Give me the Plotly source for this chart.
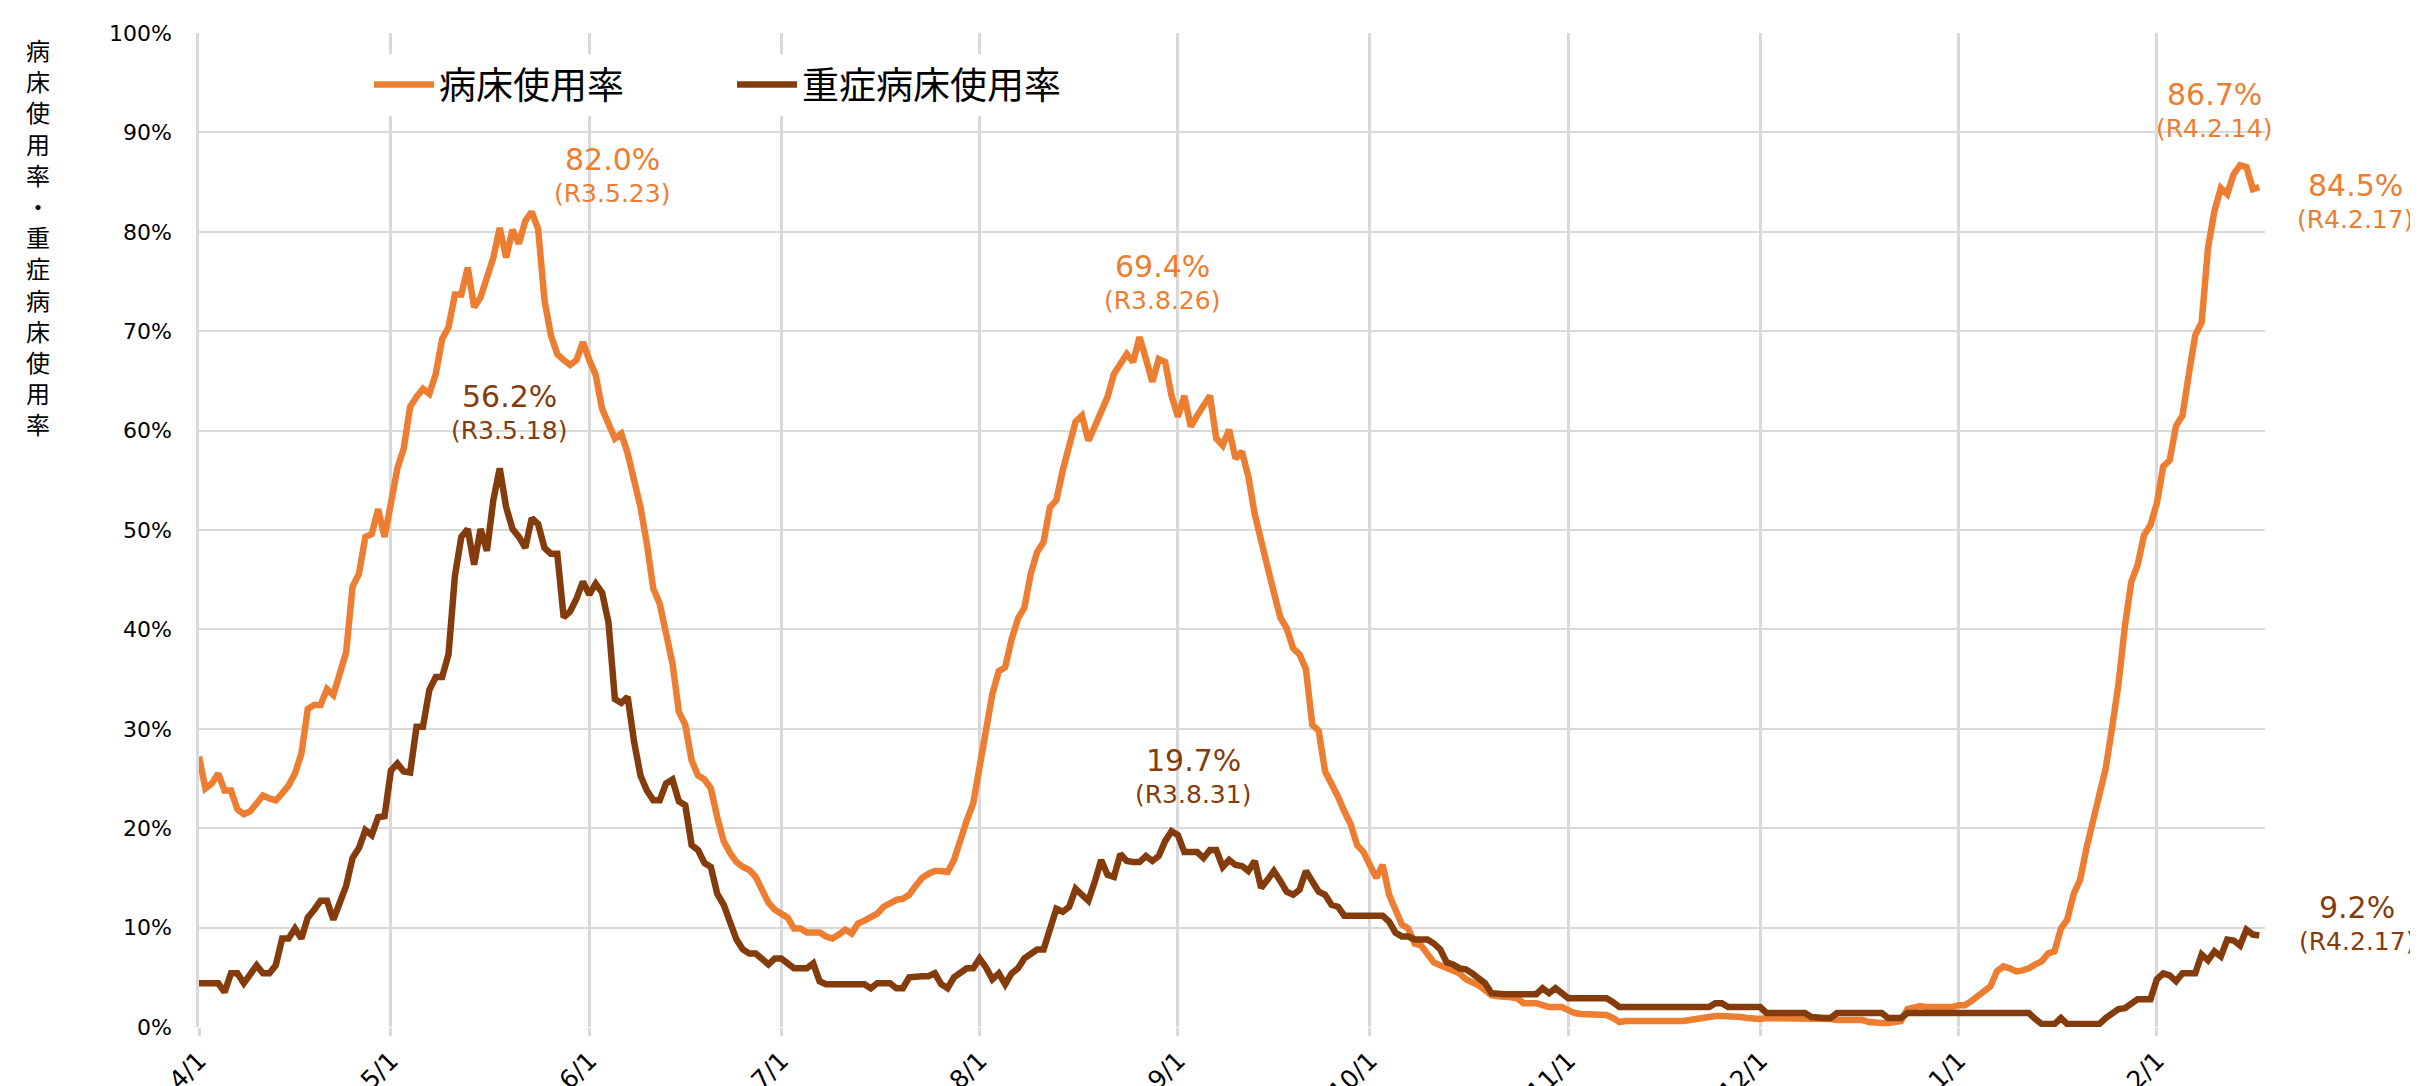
import pandas as pd
import plotly.graph_objects as go

# ---------------- data ----------------
start_date = "2021-04-01"

# 病床使用率 (%), one value per day from 2021-04-01 to 2022-02-17
bed_rate = [
    # Apr
    27.2, 24.0, 24.5, 25.5, 23.8, 23.8, 21.9, 21.4, 21.7, 22.5,
    23.3, 23.0, 22.8, 23.5, 24.3, 25.5, 27.5, 32.0, 32.4, 32.4,
    34.0, 33.4, 35.8, 37.7, 44.3, 45.6, 49.3, 49.6, 52.1, 49.3,
    # May
    52.7, 56.2, 58.2, 62.4, 63.4, 64.2, 63.7, 65.7, 69.2, 70.4,
    73.7, 73.7, 76.4, 72.4, 73.4, 75.3, 77.4, 80.4, 77.4, 80.2,
    78.8, 81.1, 82.0, 80.3, 73.1, 69.6, 67.7, 67.1, 66.6, 67.1,
    68.9,
    # Jun
    67.1, 65.6, 62.2, 60.5, 59.2, 59.7, 57.7, 55.0, 52.3, 48.6,
    44.1, 42.6, 39.9, 36.6, 31.7, 30.4, 26.8, 25.3, 24.9, 24.0,
    21.1, 18.7, 17.5, 16.6, 16.1, 15.8, 15.1, 13.6, 12.5, 11.8,
    # Jul
    11.4, 11.0, 9.9, 9.9, 9.5, 9.5, 9.5, 9.1, 8.9, 9.3,
    9.8, 9.4, 10.4, 10.7, 11.0, 11.4, 12.1, 12.5, 12.8, 12.9,
    13.3, 14.2, 15.0, 15.4, 15.7, 15.7, 15.6, 16.8, 18.9, 20.8,
    22.5,
    # Aug
    26.5, 30.0, 33.5, 35.8, 36.2, 39.0, 41.1, 42.2, 45.6, 47.8,
    48.8, 52.3, 53.0, 56.0, 58.7, 60.9, 61.5, 59.0, 60.4, 61.9,
    63.4, 65.7, 66.6, 67.7, 66.9, 69.4, 67.2, 64.9, 67.2, 66.9,
    63.5,
    # Sep
    61.4, 63.5, 60.4, 61.5, 62.5, 63.5, 59.2, 58.5, 60.1, 57.2,
    57.9, 55.4, 51.6, 48.6, 46.3, 43.7, 41.2, 40.1, 38.1, 37.5,
    36.0, 30.4, 29.8, 25.7, 24.5, 23.2, 21.7, 20.4, 18.3, 17.6,
    # Oct
    16.3, 15.0, 16.3, 13.3, 11.8, 10.3, 9.9, 8.4, 8.2, 7.3,
    6.5, 6.2, 5.9, 5.6, 5.4, 4.8, 4.5, 4.2, 3.7, 3.2,
    3.1, 3.1, 3.0, 2.9, 2.4, 2.4, 2.4, 2.2, 2.0, 2.0,
    2.0,
    # Nov
    1.7, 1.4, 1.3, 1.3, 1.2, 1.2, 1.2, 0.9, 0.5, 0.6,
    0.6, 0.5, 0.5, 0.5, 0.5, 0.5, 0.5, 0.6, 0.6, 0.7,
    0.8, 1.0, 1.1, 1.1, 1.1, 1.1, 1.1, 1.0, 0.9, 0.8,
    # Dec
    0.8, 0.9, 0.9, 0.9, 0.9, 0.9, 0.8, 0.8, 0.8, 0.8,
    0.8, 0.8, 0.7, 0.7, 0.7, 0.8, 0.7, 0.5, 0.4, 0.4,
    0.4, 0.5, 0.6, 1.8, 1.9, 2.1, 2.0, 2.0, 1.9, 2.0,
    2.0,
    # Jan
    2.2, 2.2, 2.6, 3.1, 3.6, 4.1, 5.6, 6.1, 5.9, 5.6,
    5.7, 5.9, 6.3, 6.6, 7.4, 7.6, 9.9, 10.8, 13.4, 14.8,
    18.0, 20.5, 23.5, 26.0, 30.1, 34.5, 40.3, 44.8, 46.5, 49.5,
    50.5,
    # Feb
    52.7, 56.4, 57.0, 60.5, 61.5, 65.7, 69.6, 70.9, 78.4, 82.1,
    84.4, 83.8, 85.8, 86.7, 86.5, 84.3, 84.5,
]

# 重症病床使用率 (%)
severe_rate = [
    # Apr
    4.4, 4.4, 4.4, 4.4, 3.5, 5.4, 5.4, 4.4, 5.3, 6.2,
    5.4, 5.4, 6.2, 8.9, 8.9, 9.9, 8.9, 11.0, 11.8, 12.7,
    12.7, 10.8, 12.5, 14.2, 17.0, 18.0, 19.8, 19.3, 21.1, 21.2,
    # May
    25.8, 26.5, 25.7, 25.6, 30.2, 30.2, 33.9, 35.2, 35.2, 37.5,
    45.4, 49.3, 50.1, 46.5, 50.1, 47.9, 53.0, 56.2, 52.3, 50.1,
    49.3, 48.2, 51.2, 50.6, 48.2, 47.6, 47.6, 41.2, 41.8, 43.1,
    44.8,
    # Jun
    43.5, 44.6, 43.7, 40.7, 33.0, 32.6, 33.2, 28.7, 25.3, 23.8,
    22.8, 22.8, 24.5, 24.9, 22.7, 22.3, 18.3, 17.8, 16.5, 16.1,
    13.4, 12.3, 10.3, 8.8, 7.8, 7.4, 7.4, 6.9, 6.3, 6.9,
    # Jul
    6.9, 6.4, 5.9, 5.9, 5.9, 6.4, 4.6, 4.3, 4.3, 4.3,
    4.3, 4.3, 4.3, 4.3, 3.9, 4.4, 4.4, 4.4, 3.9, 3.9,
    5.0, 5.1, 5.1, 5.1, 5.4, 4.3, 3.9, 5.0, 5.4, 5.9,
    5.9,
    # Aug
    6.9, 6.0, 4.8, 5.4, 4.3, 5.4, 5.9, 6.9, 7.4, 7.8,
    7.8, 10.1, 11.9, 11.6, 12.1, 13.9, 13.3, 12.7, 14.6, 16.8,
    15.3, 15.1, 17.4, 16.7, 16.6, 16.6, 17.2, 16.7, 17.2, 18.7,
    19.7,
    # Sep
    19.3, 17.6, 17.6, 17.6, 17.0, 17.8, 17.8, 16.1, 16.8, 16.3,
    16.2, 15.7, 16.7, 14.0, 14.8, 15.7, 14.7, 13.6, 13.3, 13.8,
    15.7, 14.6, 13.6, 13.3, 12.3, 12.1, 11.2, 11.2, 11.2, 11.2,
    # Oct
    11.2, 11.2, 11.2, 10.6, 9.5, 9.1, 9.1, 8.8, 8.8, 8.8,
    8.4, 7.8, 6.5, 6.3, 5.9, 5.8, 5.4, 4.9, 4.4, 3.4,
    3.3, 3.3, 3.3, 3.3, 3.3, 3.3, 3.3, 3.9, 3.4, 3.9,
    3.4,
    # Nov
    2.9, 2.9, 2.9, 2.9, 2.9, 2.9, 2.9, 2.5, 2.0, 2.0,
    2.0, 2.0, 2.0, 2.0, 2.0, 2.0, 2.0, 2.0, 2.0, 2.0,
    2.0, 2.0, 2.0, 2.4, 2.4, 2.0, 2.0, 2.0, 2.0, 2.0,
    # Dec
    2.0, 1.4, 1.4, 1.4, 1.4, 1.4, 1.4, 1.4, 1.0, 0.9,
    0.9, 0.9, 1.4, 1.4, 1.4, 1.4, 1.4, 1.4, 1.4, 1.4,
    0.9, 0.9, 0.9, 1.4, 1.4, 1.4, 1.4, 1.4, 1.4, 1.4,
    1.4,
    # Jan
    1.4, 1.4, 1.4, 1.4, 1.4, 1.4, 1.4, 1.4, 1.4, 1.4,
    1.4, 1.4, 0.8, 0.3, 0.3, 0.3, 0.9, 0.3, 0.3, 0.3,
    0.3, 0.3, 0.3, 0.9, 1.3, 1.8, 1.9, 2.3, 2.8, 2.8,
    2.8,
    # Feb
    4.8, 5.4, 5.2, 4.6, 5.4, 5.4, 5.4, 7.3, 6.7, 7.6,
    7.1, 8.8, 8.7, 8.2, 9.8, 9.3, 9.2,
]

series_names = ["病床使用率", "重症病床使用率"]

month_ticks = ["2021-04-01", "2021-05-01", "2021-06-01", "2021-07-01",
               "2021-08-01", "2021-09-01", "2021-10-01", "2021-11-01",
               "2021-12-01", "2022-01-01", "2022-02-01"]
month_labels = ["4/1", "5/1", "6/1", "7/1", "8/1", "9/1", "10/1",
                "11/1", "12/1", "1/1", "2/1"]

y_title = "病床使用率・重症病床使用率"

# callouts: (value text, date text, colour key, x px, y px of value line)
callouts = [
    ("82.0%", "(R3.5.23)", "bed", 604, 151),
    ("56.2%", "(R3.5.18)", "sev", 501, 388),
    ("69.4%", "(R3.8.26)", "bed", 1154, 258),
    ("19.7%", "(R3.8.31)", "sev", 1185, 752),
    ("86.7%", "(R4.2.14)", "bed", 2206, 86),
    ("84.5%", "(R4.2.17)", "bed", 2347, 178),
    ("9.2%", "(R4.2.17)", "sev", 2349, 899),
]

# ---------------- styling ----------------
W, H = 2418, 1086
PL, PR, PT, PB = 191, 2257, 25, 1019
ORANGE = "#ED7D31"
BROWN = "#843C0C"
GRID = "#D9D9D9"
JP = "Noto Sans CJK JP"
NUM = "DejaVu Sans"

dates = pd.date_range(start_date, periods=len(bed_rate), freq="D")
x_end = pd.Timestamp(start_date) + pd.Timedelta(days=322.9)


def pxx(x):
    return (x - PL) / (PR - PL)


def pxy(y):
    return (PB - y) / (PB - PT)


fig = go.Figure()
fig.add_trace(go.Scatter(x=dates, y=bed_rate, mode="lines", name=series_names[0],
                         line=dict(color=ORANGE, width=6.5)))
fig.add_trace(go.Scatter(x=dates, y=severe_rate, mode="lines", name=series_names[1],
                         line=dict(color=BROWN, width=6.5)))

annotations = [dict(
    text="<br>".join(list(y_title)), xref="paper", yref="paper",
    x=pxx(30), y=pxy(22), xanchor="center", yanchor="top", showarrow=False,
    align="center", font=dict(family=JP, size=24, color="#000000"))]

for val, dt, key, xp, yp in callouts:
    col = ORANGE if key == "bed" else BROWN
    annotations.append(dict(
        text=val, xref="paper", yref="paper", x=pxx(xp), y=pxy(yp),
        xanchor="center", yanchor="middle", showarrow=False,
        font=dict(family=NUM, size=30, color=col)))
    annotations.append(dict(
        text=dt, xref="paper", yref="paper", x=pxx(xp), y=pxy(yp + 34),
        xanchor="center", yanchor="middle", showarrow=False,
        font=dict(family=NUM, size=25, color=col)))

fig.update_layout(
    template="none",
    width=W, height=H,
    margin=dict(l=PL, r=W - PR, t=PT, b=H - PB, autoexpand=False),
    paper_bgcolor="white", plot_bgcolor="white",
    showlegend=True,
    legend=dict(orientation="h", x=pxx(361), y=pxy(77), xanchor="left", yanchor="middle",
                bgcolor="white", borderwidth=0,
                font=dict(family=JP, size=37, color="#000000"),
                itemwidth=60, entrywidth=288, entrywidthmode="pixels"),
    annotations=annotations,
    xaxis=dict(
        type="date", range=[pd.Timestamp(start_date), x_end], automargin=False,
        tickvals=month_ticks, ticktext=month_labels, tickangle=-45,
        tickfont=dict(family=NUM, size=25, color="#000000"),
        showgrid=True, gridcolor=GRID, gridwidth=2.5,
        ticks="outside", ticklen=8, tickcolor=GRID, tickwidth=2.5,
        showline=False, zeroline=False, ticklabelstandoff=0,
    ),
    yaxis=dict(
        range=[0, 100], dtick=10, tick0=0, ticksuffix="%", automargin=False,
        tickfont=dict(family=NUM, size=22, color="#000000"),
        showgrid=True, gridcolor=GRID, gridwidth=2,
        showline=True, linecolor=GRID, linewidth=2.5,
        zeroline=False, ticks="", ticklabelstandoff=20,
    ),
)

fig.write_html("out.html")
